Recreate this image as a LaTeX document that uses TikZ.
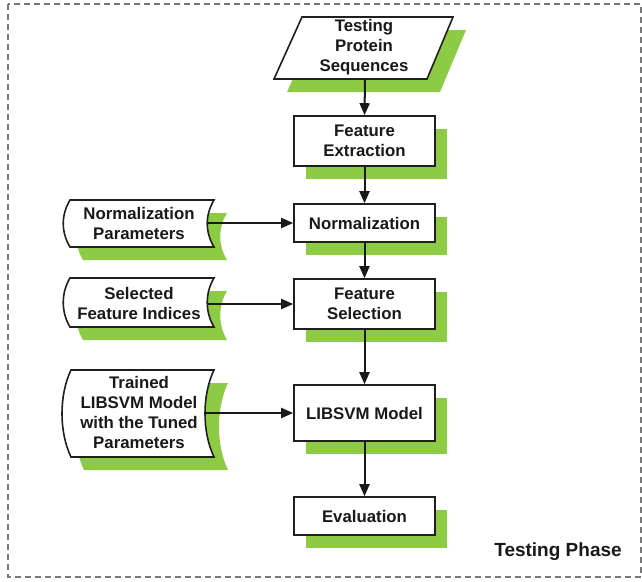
\documentclass[tikz,border=0pt]{standalone}
\usepackage{fontspec}
\setmainfont{Liberation Sans}
\usetikzlibrary{arrows.meta}
\definecolor{shgreen}{RGB}{141,203,68}
\definecolor{bordergray}{RGB}{120,120,120}
\begin{document}
\begin{tikzpicture}[x=1pt,y=-1pt,
  lbl/.style={font=\fontsize{16.8}{20}\selectfont\bfseries,align=center,text=black!90},
  procbox/.style={draw=black!88,line width=1.6pt,fill=white,minimum width=141pt,inner sep=0pt},
  shadowbox/.style={fill=shgreen,draw=none,minimum width=141pt,inner sep=0pt},
  outline/.style={draw=black!88,line width=1.6pt,fill=white},
  conn/.style={line width=2pt,draw=black!90,-{Triangle[length=12pt,width=10pt]}}]
\useasboundingbox (0,0) rectangle (642,581);
\draw[bordergray,line width=1.5pt,dash pattern=on 6pt off 4pt] (8,4) rectangle (641,577);

% parallelogram input
\fill[shgreen] (315,30) -- (466,30) -- (440,92) -- (287,92) -- cycle;
\draw[outline] (302,17) -- (453,17) -- (427,79) -- (274,79) -- cycle;
\node[lbl] (tps) at (364,47) {Testing\\Protein\\Sequences};
\coordinate (tpsb) at (365,79);

% process boxes with shadows
\foreach \cy/\h in {141/50,223/38,304/50,413/56,516/38}{
  \node[shadowbox,minimum height=\h pt] at (364.5+12,\cy+13) {};
}
\node[procbox,minimum height=50pt,lbl] (fe) at (364.5,141) {Feature\\Extraction};
\node[procbox,minimum height=38pt,lbl] (nm) at (364.5,223) {Normalization};
\node[procbox,minimum height=50pt,lbl] (fs) at (364.5,304) {Feature\\Selection};
\node[procbox,minimum height=56pt,lbl] (lm) at (364.5,413) {LIBSVM Model};
\node[procbox,minimum height=38pt,lbl] (ev) at (364.5,516) {Evaluation};

% stored data shapes
% Normalization Parameters
\fill[shgreen] (83,213) -- (227,213) .. controls (218,228) and (218,245) .. (227,260) -- (83,260) .. controls (74,245) and (74,228) .. (83,213) -- cycle;
\draw[outline] (70,200) -- (214,200) .. controls (205,215) and (205,232) .. (214,247) -- (70,247) .. controls (61,232) and (61,215) .. (70,200) -- cycle;
\node[lbl] (np) at (139,223) {Normalization\\Parameters};
\coordinate (npr) at (208,223);

% Selected Feature Indices
\fill[shgreen] (83,291) -- (227,291) .. controls (218,306) and (218,325) .. (227,340) -- (83,340) .. controls (74,325) and (74,306) .. (83,291) -- cycle;
\draw[outline] (70,278) -- (214,278) .. controls (205,293) and (205,312) .. (214,327) -- (70,327) .. controls (61,312) and (61,293) .. (70,278) -- cycle;
\node[lbl] (sf) at (139,303) {Selected\\Feature Indices};
\coordinate (sfr) at (208,304);

% Trained LIBSVM model
\fill[shgreen] (84,383) -- (228,383) .. controls (216,408) and (216,445) .. (228,470) -- (84,470) .. controls (72,445) and (72,408) .. (84,383) -- cycle;
\draw[outline] (71,370) -- (214,370) .. controls (202,395) and (202,432) .. (214,457) -- (71,457) .. controls (59,432) and (59,395) .. (71,370) -- cycle;
\node[lbl] (tm) at (139,412) {Trained\\LIBSVM Model\\with the Tuned\\Parameters};
\coordinate (tmr) at (206,413);

% connectors
\draw[conn] (tpsb) -- (fe.north);
\draw[conn] (fe) -- (nm);
\draw[conn] (nm) -- (fs);
\draw[conn] (fs) -- (lm);
\draw[conn] (lm) -- (ev);
\draw[conn] (npr) -- (nm.west);
\draw[conn] (sfr) -- (fs.west);
\draw[conn] (tmr) -- (lm.west);

\node[font=\fontsize{19}{22}\selectfont\bfseries,text=black!90] (tp) at (558,552) {Testing Phase};
\end{tikzpicture}
\end{document}
